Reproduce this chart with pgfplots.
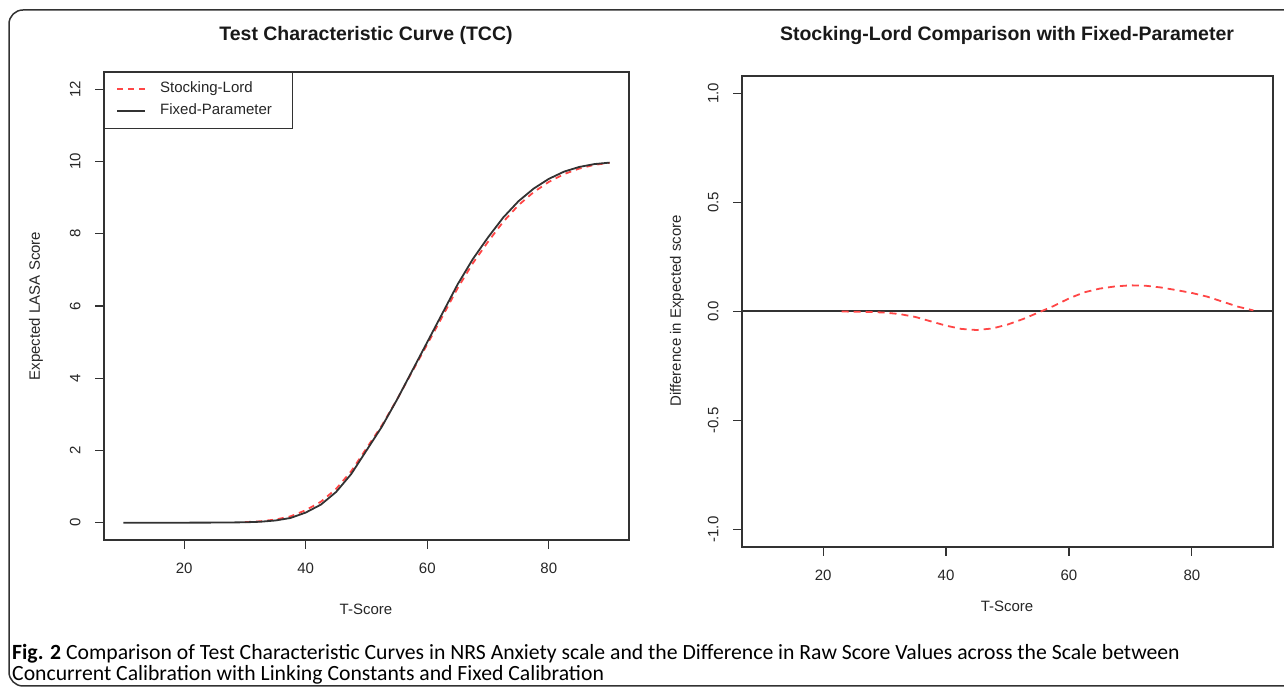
\documentclass[border=0pt]{standalone}
\usepackage{fontspec}
\setmainfont{Liberation Sans}
\newfontfamily\capfont{Carlito}
\usepackage{pgfplots}
\pgfplotsset{compat=1.18}
\definecolor{axgray}{RGB}{50,50,50}
\definecolor{slred}{RGB}{255,70,70}
\begin{document}
\begin{tikzpicture}[x=1pt,y=1pt]
\useasboundingbox (0,0) rectangle (1284,687);
% outer frame
\draw[axgray, line width=1.5pt, rounded corners=14pt] (1290,677) -- (9,677) -- (9,1) -- (1290,1);
\pgfplotsset{
  every axis/.append style={
    scale only axis, anchor=south west,
    xmin=6.8, xmax=93.2, xtick={20,40,60,80},
    xtick pos=bottom, ytick pos=left,
    tick align=outside, major tick length=9pt,
    axis line style={axgray, line width=1.2pt},
    every tick/.style={axgray, line width=1.2pt},
    /pgf/number format/assume math mode=true,
    tick label style={font=\fontsize{15}{15}\selectfont, black!85},
    yticklabel style={rotate=90, anchor=south, yshift=11pt},
    xticklabel style={yshift=-10pt},
    clip=true,
  }
}
\begin{axis}[at={(104pt,147pt)}, width=525pt, height=468pt,
  ymin=-0.48, ymax=12.48, ytick={0,2,4,6,8,10,12},
  legend style={at={(0,1)}, anchor=north west, draw=axgray,
    font=\fontsize{15}{15}\selectfont, text=black!85, inner xsep=0pt, inner ysep=9.5pt, row sep=7pt,
    column sep=0pt,
    nodes={inner sep=0pt, text height=11pt, text depth=4pt},
    cells={anchor=west}},
  legend image post style={line width=1.8pt},
  legend image code/.code={\path[draw=none,fill=none] (0pt,-3pt) rectangle (56pt,3pt); \draw[#1] (13pt,0pt) -- (41pt,0pt);},
]
\addplot[slred, line width=1.8pt, dash pattern=on 6pt off 5pt] coordinates {
(30,0.015) (32.5,0.037) (35,0.085) (37.5,0.175) (40,0.345) (42.5,0.58) (45,0.935)
(47.5,1.428) (50,2.06) (52.5,2.685) (55,3.405) (57.5,4.175) (60,4.94) (62.5,5.712)
(65,6.495) (67.5,7.185) (70,7.78) (72.5,8.332) (75,8.79) (77.5,9.152) (80,9.435)
(82.5,9.652) (85,9.805) (87.5,9.908) (90,9.965)};
\addlegendentry{Stocking-Lord}
\addplot[axgray, line width=1.8pt] coordinates {
(10,0) (15,0) (20,0) (25,0.002) (30,0.01) (32.5,0.025) (35,0.06) (37.5,0.13)
(40,0.28) (42.5,0.5) (45,0.85) (47.5,1.35) (50,2.0) (52.5,2.65) (55,3.4) (57.5,4.2)
(60,5.0) (62.5,5.8) (65,6.6) (67.5,7.3) (70,7.9) (72.5,8.45) (75,8.9) (77.5,9.25)
(80,9.52) (82.5,9.72) (85,9.85) (87.5,9.93) (90,9.97)};
\addlegendentry{\makebox[132pt][l]{Fixed-Parameter}}
\end{axis}
\begin{axis}[at={(742pt,140pt)}, width=531pt, height=471pt,
  ymin=-1.08, ymax=1.08, ytick={-1,-0.5,0,0.5,1},
  yticklabel style={/pgf/number format/fixed, /pgf/number format/fixed zerofill, /pgf/number format/precision=1},
]
\addplot[axgray, line width=2pt] coordinates {(6.8,0) (93.2,0)};
\addplot[slred, line width=1.8pt, dash pattern=on 7pt off 5pt] coordinates {
(23,0) (25,-0.001) (27.5,-0.002) (30,-0.005) (32.5,-0.012) (35,-0.025) (37.5,-0.045)
(40,-0.065) (42.5,-0.08) (45,-0.085) (47.5,-0.078) (50,-0.06) (52.5,-0.035) (55,-0.005)
(57.5,0.025) (60,0.06) (62.5,0.088) (65,0.105) (67.5,0.115) (70,0.12) (72.5,0.118)
(75,0.11) (77.5,0.098) (80,0.085) (82.5,0.068) (85,0.045) (87.5,0.022) (90,0.005)};
\end{axis}
% titles and labels
\node[font=\bfseries\fontsize{19.5}{19.5}\selectfont, black!90] at (366,652) {Test Characteristic Curve (TCC)};
\node[font=\bfseries\fontsize{19.5}{19.5}\selectfont, black!90] at (1007,651) {Stocking-Lord Comparison with Fixed-Parameter};
\node[font=\fontsize{15}{15}\selectfont, black!85] at (366,78) {T-Score};
\node[font=\fontsize{15}{15}\selectfont, black!85] at (1007,81) {T-Score};
\node[font=\fontsize{15}{15}\selectfont, black!85, rotate=90] at (36,381) {Expected LASA Score};
\node[font=\fontsize{15}{15}\selectfont, black!85, rotate=90] at (677,376) {Difference in Expected score};
% caption
\node[anchor=base west, inner sep=0, font=\capfont\fontsize{21.7}{21.7}\selectfont] at (12,27) {\textbf{Fig. 2} Comparison of Test Characteristic Curves in NRS Anxiety scale and the Difference in Raw Score Values across the Scale between};
\node[anchor=base west, inner sep=0, font=\capfont\fontsize{21.7}{21.7}\selectfont] at (12,6) {Concurrent Calibration with Linking Constants and Fixed Calibration};
\end{tikzpicture}
\end{document}
